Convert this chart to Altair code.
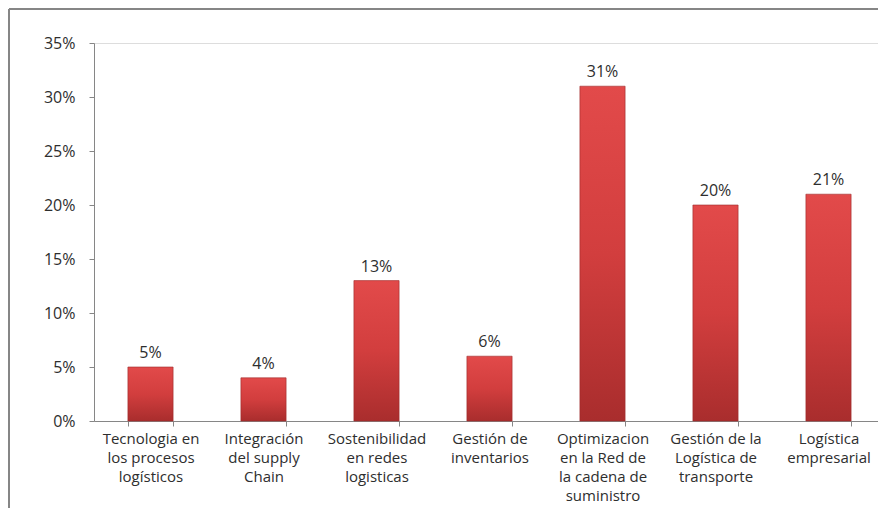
import altair as alt
import pandas as pd

categories = [
    "Tecnologia en|los procesos|logísticos",
    "Integración|del supply|Chain",
    "Sostenibilidad|en redes|logisticas",
    "Gestión de|inventarios",
    "Optimizacion|en la Red de|la cadena de|suministro",
    "Gestión de la|Logística de|transporte",
    "Logística|empresarial",
]
values = [0.05, 0.04, 0.13, 0.06, 0.31, 0.20, 0.21]
y_ticks = [0, 0.05, 0.10, 0.15, 0.20, 0.25, 0.30, 0.35]

df = pd.DataFrame({"cat": categories, "val": values})

FONT = "Open Sans"
GREY = "#868686"
TXT = "#2e2e2e"

base = alt.Chart(df)

x_enc = alt.X(
    "cat:N",
    sort=None,
    title=None,
    scale=alt.Scale(paddingInner=0.6, paddingOuter=0.3, range=[0, 791]),
    axis=alt.Axis(
        labelAngle=0,
        labelExpr="split(datum.label, '|')",
        labelFont=FONT,
        labelFontSize=15,
        labelLineHeight=19,
        labelColor=TXT,
        labelPadding=5,
        labelLimit=200,
        tickBand="extent",
        tickSize=5,
        tickColor=GREY,
        domainColor=GREY,
        domainWidth=1,
        labelBaseline="top",
    ),
)
y_enc = alt.Y(
    "val:Q",
    title=None,
    scale=alt.Scale(domain=[0, 0.35], nice=False),
    axis=alt.Axis(
        values=y_ticks,
        format=".0%",
        grid=False,
        labelFont=FONT,
        labelFontSize=16,
        labelColor=TXT,
        labelPadding=14,
        tickSize=5,
        tickColor=GREY,
        domainColor=GREY,
    ),
)

bars = base.mark_bar(
    color=alt.Gradient(
        gradient="linear",
        x1=0, x2=0, y1=0, y2=1,
        stops=[
            alt.GradientStop(color="#e24a4a", offset=0),
            alt.GradientStop(color="#d23e3e", offset=0.5),
            alt.GradientStop(color="#a92d2d", offset=1),
        ],
    ),
    stroke="#9c2a2a",
    strokeWidth=0.6,
).encode(x=x_enc, y=y_enc)

labels = base.mark_text(
    baseline="bottom", dy=-6, font=FONT, fontSize=16, color=TXT
).encode(x=x_enc, y=y_enc, text=alt.Text("val:Q", format=".0%"))

frame_data = alt.Data(values=[{"k": 1}])
vline = alt.Chart(frame_data).mark_rule(color=GREY, strokeWidth=2).encode(
    x=alt.value(-85), y=alt.value(-34), y2=alt.value(700)
)
hline = alt.Chart(frame_data).mark_rule(color=GREY, strokeWidth=2).encode(
    x=alt.value(-85), x2=alt.value(1000), y=alt.value(-34)
)

chart = (
    alt.layer(bars, labels, vline, hline)
    .properties(
        width=784,
        height=378,
        autosize=alt.AutoSizeParams(type="none"),
        padding={"left": 86, "top": 35, "right": 0, "bottom": 87},
    )
    .configure_view(stroke=None)
    .configure(background="white")
)

chart.save("out.html", embed_options={"renderer": "svg", "actions": False})
